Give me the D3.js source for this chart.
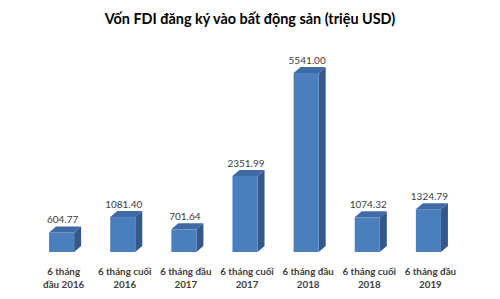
<!DOCTYPE html>
<html>
<head>
<meta charset="utf-8">
<script src="https://cdn.jsdelivr.net/npm/d3@7"></script>
<style>
  body { margin: 0; background: #fff; }
  text { font-family: Lato, "Open Sans", sans-serif; }
</style>
</head>
<body>
<div id="chart"></div>
<script>
// data
const categories = ["6 tháng đầu 2016", "6 tháng cuối 2016", "6 tháng đầu 2017", "6 tháng cuối 2017",
    "6 tháng đầu 2018", "6 tháng cuối 2018", "6 tháng đầu 2019"]
const categoryLines = [
    ["6 tháng", "đầu 2016"],
    ["6 tháng cuối", "2016"],
    ["6 tháng đầu", "2017"],
    ["6 tháng cuối", "2017"],
    ["6 tháng đầu", "2018"],
    ["6 tháng cuối", "2018"],
    ["6 tháng đầu", "2019"]
]
const values = [604.77, 1081.40, 701.64, 2351.99, 5541.00, 1074.32, 1324.79]
const title = "Vốn FDI đăng ký vào bất động sản (triệu USD)"

const width = 500
const height = 299
const base = 252      // floor of the bars
const depthX = 7
const depthY = 6

const svg = d3.select("div#chart").append("svg").attr("width", width).attr("height", height)

svg.append("text")
    .attr("x", 250).attr("y", 24)
    .attr("text-anchor", "middle")
    .attr("font-size", 14.4).attr("font-weight", "bold")
    .attr("fill", "#000")
    .text(title)

const x = d3.scaleBand().domain(categories).range([13, 477]).padding(0.59)
const y = d3.scaleLinear().domain([0, 5541]).range([base, 73])

const g = svg.append("g")

const bars = g.selectAll("g.bar").data(values).join("g").attr("class", "bar")

// side face
bars.append("path")
    .attr("fill", "#34588a")
    .attr("d", (d, i) => {
        const x1 = x(categories[i]) + x.bandwidth()
        return `M${x1},${y(d)} L${x1 + depthX},${y(d) - depthY} L${x1 + depthX},${base - depthY} L${x1},${base} Z`
    })

// top face
bars.append("path")
    .attr("fill", "#3f6aa6")
    .attr("d", (d, i) => {
        const x0 = x(categories[i])
        const x1 = x0 + x.bandwidth()
        return `M${x0},${y(d)} L${x0 + depthX},${y(d) - depthY} L${x1 + depthX},${y(d) - depthY} L${x1},${y(d)} Z`
    })

// front face
bars.append("rect")
    .attr("x", (d, i) => x(categories[i]))
    .attr("y", d => y(d))
    .attr("width", x.bandwidth())
    .attr("height", d => base - y(d))
    .attr("fill", "#4a7ebd")

// value labels
g.selectAll("text.value").data(values).join("text")
    .attr("class", "value")
    .attr("x", (d, i) => x(categories[i]) + x.bandwidth() / 2 + 1)
    .attr("y", d => y(d) - 9)
    .attr("text-anchor", "middle")
    .attr("font-size", 10)
    .attr("fill", "#404040")
    .text(d => d.toFixed(2))

// category labels
const labels = g.selectAll("text.cat").data(categoryLines).join("text")
    .attr("class", "cat")
    .attr("text-anchor", "middle")
    .attr("font-size", 9.8).attr("font-weight", "bold")
    .attr("fill", "#404040")
    .attr("transform", (d, i) => `translate(${x(categories[i]) + x.bandwidth() / 2 + 2}, 275)`)

labels.selectAll("tspan").data(d => d).join("tspan")
    .attr("x", 0)
    .attr("y", (d, j) => j * 13)
    .text(d => d)
</script>
</body>
</html>
